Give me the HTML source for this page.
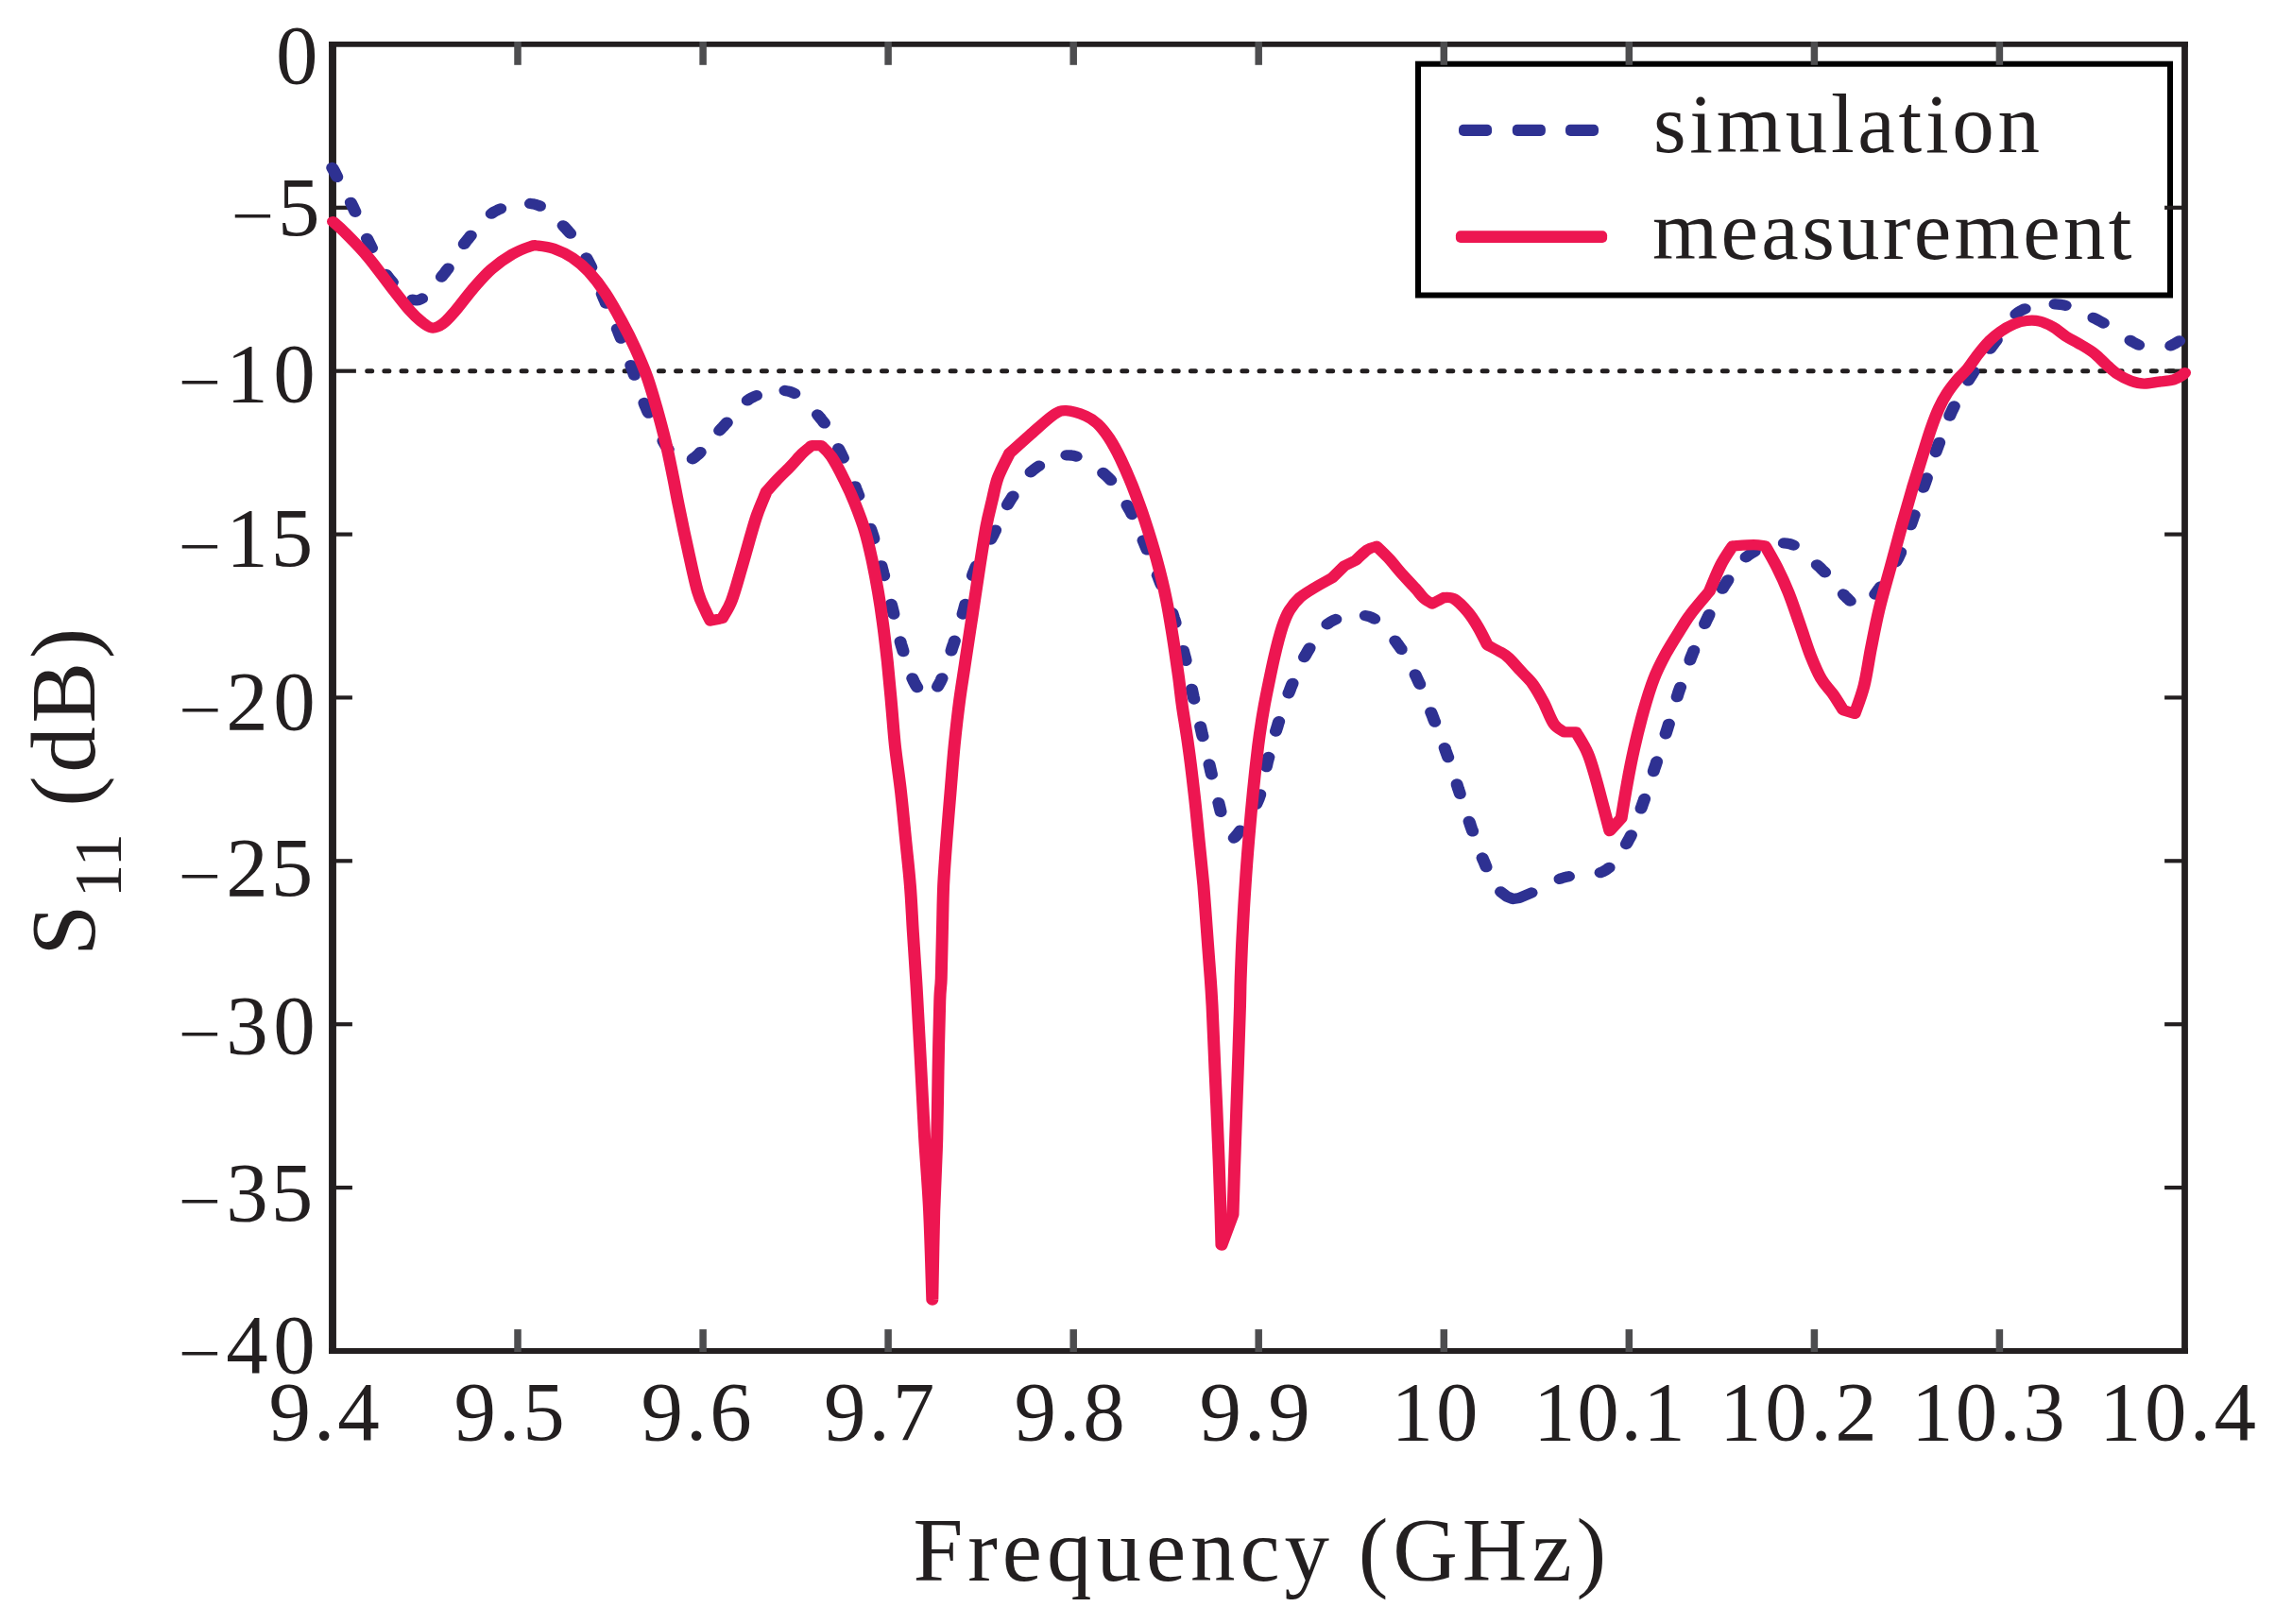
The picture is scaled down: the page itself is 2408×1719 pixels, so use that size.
<!DOCTYPE html>
<html lang="en"><head><meta charset="utf-8"><title>S11 simulation vs measurement</title>
<style>html,body{margin:0;padding:0;background:#fff}body{width:2408px;height:1719px;overflow:hidden}svg{display:block}text{font-family:"Liberation Serif","Times New Roman",Times,serif;fill:#231f20}</style></head><body>
<svg width="2408" height="1719" viewBox="0 0 2408 1719">
<rect width="2408" height="1719" fill="#fff"/>
<line x1="388.7" y1="392.7" x2="2309.1" y2="392.7" stroke="#231f20" stroke-width="5" stroke-dasharray="5 13.16" stroke-dashoffset="0" stroke-linecap="round"/>
<rect x="1501" y="67.7" width="796" height="244.8" fill="#fff" stroke="#000" stroke-width="6"/>
<rect x="1544" y="131.8" width="35.1" height="12.1" rx="5" ry="5" fill="#2e3192"/>
<rect x="1600.8" y="131.8" width="35.1" height="12.1" rx="5" ry="5" fill="#2e3192"/>
<rect x="1657" y="131.8" width="35" height="12.1" rx="5" ry="5" fill="#2e3192"/>
<rect x="1540.9" y="244.2" width="160.2" height="12.7" rx="5" ry="5" fill="#ed1651"/>
<g stroke="#231f20" stroke-linecap="butt">
<line x1="352" y1="44" x2="352" y2="1432.9" stroke-width="7.9"/>
<line x1="2312.5" y1="44" x2="2312.5" y2="1432.9" stroke-width="6.8"/>
<line x1="348.1" y1="46.9" x2="2315.9" y2="46.9" stroke-width="5.8"/>
<line x1="348.1" y1="1430" x2="2315.9" y2="1430" stroke-width="5.8"/>
</g>
<g stroke="#4d4d4f" stroke-width="7.5">
<line x1="548" y1="1431" x2="548" y2="1407.1"/>
<line x1="548" y1="44" x2="548" y2="68.8"/>
<line x1="744.1" y1="1431" x2="744.1" y2="1407.1"/>
<line x1="744.1" y1="44" x2="744.1" y2="68.8"/>
<line x1="940.1" y1="1431" x2="940.1" y2="1407.1"/>
<line x1="940.1" y1="44" x2="940.1" y2="68.8"/>
<line x1="1136.2" y1="1431" x2="1136.2" y2="1407.1"/>
<line x1="1136.2" y1="44" x2="1136.2" y2="68.8"/>
<line x1="1332.2" y1="1431" x2="1332.2" y2="1407.1"/>
<line x1="1332.2" y1="44" x2="1332.2" y2="68.8"/>
<line x1="1528.3" y1="1431" x2="1528.3" y2="1407.1"/>
<line x1="1528.3" y1="44" x2="1528.3" y2="68.8"/>
<line x1="1724.3" y1="1431" x2="1724.3" y2="1407.1"/>
<line x1="1724.3" y1="44" x2="1724.3" y2="68.8"/>
<line x1="1920.4" y1="1431" x2="1920.4" y2="1407.1"/>
<line x1="1920.4" y1="44" x2="1920.4" y2="68.8"/>
<line x1="2116.4" y1="1431" x2="2116.4" y2="1407.1"/>
<line x1="2116.4" y1="44" x2="2116.4" y2="68.8"/>
</g>
<g stroke="#231f20" stroke-width="4.2">
<line x1="352" y1="219.8" x2="372.9" y2="219.8"/>
<line x1="2312.5" y1="219.8" x2="2291.1" y2="219.8"/>
<line x1="352" y1="392.7" x2="376.9" y2="392.7"/>
<line x1="2312.5" y1="392.7" x2="2291.1" y2="392.7"/>
<line x1="352" y1="565.6" x2="372.9" y2="565.6"/>
<line x1="2312.5" y1="565.6" x2="2291.1" y2="565.6"/>
<line x1="352" y1="738.4" x2="372.9" y2="738.4"/>
<line x1="2312.5" y1="738.4" x2="2291.1" y2="738.4"/>
<line x1="352" y1="911.3" x2="372.9" y2="911.3"/>
<line x1="2312.5" y1="911.3" x2="2291.1" y2="911.3"/>
<line x1="352" y1="1084.2" x2="372.9" y2="1084.2"/>
<line x1="2312.5" y1="1084.2" x2="2291.1" y2="1084.2"/>
<line x1="352" y1="1257.1" x2="372.9" y2="1257.1"/>
<line x1="2312.5" y1="1257.1" x2="2291.1" y2="1257.1"/>
</g>
<g transform="scale(1.15 1)" fill="none" stroke="#2e3192" stroke-width="11.3" stroke-linecap="round" stroke-linejoin="round">
<polyline points="305.8,177.5 307,179.9 308.1,182.4 309.2,184.9 310.3,187.3"/>
<polyline points="322.8,214.3 323.9,216.8 325,219.3 326,221.8 327,224.3"/>
<polyline points="337.8,252.4 338.9,255 340,257.5 341.1,260 342.2,262.6"/>
<polyline points="355.3,290.5 356.7,292.6 358.2,294.7 359.7,296.8 361.2,298.9"/>
<polyline points="379.7,317.1 381.5,317.7 383.2,317.9 385,317.6 386.7,317 388.4,316"/>
<polyline points="406.4,293.1 408,290.7 409.6,288.5 411,286.3 412.5,284.1"/>
<polyline points="427.2,258.3 428.6,256 430.2,253.8 431.7,251.6 433.3,249.3"/>
<polyline points="452.3,226.2 454.2,224.6 456.3,223.3 458.4,222.1 460.7,220.9"/>
<polyline points="488.2,215.5 490.4,215.8 492.7,216.4 494.9,217.2 497,218.2"/>
<polyline points="518.3,238.8 520,240.9 521.7,243 523.3,245.1 524.9,247.2"/>
<polyline points="539.7,273 540.9,275.5 542,277.9 543.1,280.4 544.2,282.8"/>
<polyline points="554.1,311 555,313.6 555.9,316.1 556.9,318.6 557.7,321.1"/>
<polyline points="568.1,348 569,350.5 569.8,353 570.7,355.5 571.6,358.1"/>
<polyline points="580.6,386.6 581.4,389.2 582.3,391.8 583,394.4 583.9,397.1"/>
<polyline points="592.9,426.5 593.8,429.2 594.8,431.8 595.8,434.5 596.9,437.2"/>
<polyline points="610.3,466.8 611.4,469 612.4,471 613.5,472.9 614.4,474.7 615,475.6"/>
<polyline points="637.5,485.8 639.2,484.3 641.1,482.5 643.2,480.4 644.6,478.7"/>
<polyline points="662.3,455.8 663.9,453.6 665.7,451.5 667.3,449.4 669,447.2"/>
<polyline points="688,423.9 689.9,422.3 691.9,421 694,419.8 696.2,418.7"/>
<polyline points="722.5,413.4 724.8,413.9 727,414.5 729,415.4 731.2,416.5"/>
<polyline points="752.5,439 754.2,441.3 755.7,443.5 757.3,445.7 758.7,447.9"/>
<polyline points="771.7,474.7 772.8,477.2 773.9,479.8 775,482.4 776.1,485"/>
<polyline points="787,514.8 787.9,517.6 788.9,520.4 789.8,523.3 790.3,524.7"/>
<polyline points="801.2,559.3 802.1,562.2 802.9,565 803.7,567.8 804.3,570.5"/>
<polyline points="811.2,598.8 811.8,601.5 812.4,604.1 813,606.8 813.7,609.5"/>
<polyline points="820.3,639.4 820.9,642.1 821.5,644.8 822.1,647.5 822.6,650.1"/>
<polyline points="828.7,679 829.3,681.6 830,684.2 830.7,686.9 831.4,689.6"/>
<polyline points="839.8,717.9 841,721.1 842.2,723.7 843.4,726.1 844.2,727.6"/>
<polyline points="863,726.9 863.7,725.4 864.5,723.8 865.4,722 866.2,720 867,717.8"/>
<polyline points="875.6,688.8 876.3,686.1 877.1,683.4 877.9,680.8 878.6,678.2"/>
<polyline points="886.1,650 886.7,647.4 887.4,644.8 888,642.1 888.6,639.4"/>
<polyline points="895.1,609.3 895.9,606.6 896.8,604 897.7,601.4 898.7,598.8"/>
<polyline points="911.9,571 913,568.5 914.2,566 915.2,563.5 916.3,561.1"/>
<polyline points="927.2,534.5 928.4,532.1 929.7,529.8 931,527.4 932.3,525.1"/>
<polyline points="948.7,499.8 950.5,498 952.3,496.3 954.3,494.7 956.3,493.1"/>
<polyline points="981.6,481.9 983.8,481.8 986.1,482 988.3,482.4 990.6,483.1"/>
<polyline points="1015.3,500.5 1017.2,502.5 1019,504.4 1020.8,506.4 1022.4,508.4"/>
<polyline points="1037.3,534.7 1038.5,537.2 1039.7,539.6 1040.8,542 1041.9,544.5"/>
<polyline points="1052.2,572 1053.1,574.5 1054,577 1054.9,579.5 1055.8,581.9"/>
<polyline points="1065.4,608.9 1066.3,611.4 1067.1,614 1068,616.6 1069,619.2"/>
<polyline points="1078.9,648.6 1079.7,651.3 1080.4,654 1081.2,656.7 1081.9,659.3"/>
<polyline points="1089.1,688.6 1089.7,691.3 1090.3,694 1091,696.7 1091.5,699.4"/>
<polyline points="1096.9,729.3 1097.4,732 1097.9,734.7 1098.4,737.4 1099,740"/>
<polyline points="1104.9,769 1105.4,771.6 1105.9,774.3 1106.4,777 1107,779.6"/>
<polyline points="1113,809 1113.6,811.7 1114.1,814.4 1114.6,817.1 1115.2,819.8"/>
<polyline points="1121.6,849.6 1122.1,852.1 1122.6,854.5 1123.1,856.9 1123.6,859.4"/>
<polyline points="1135.8,887 1137,885.7 1138.3,883.9 1139.7,881.8 1141.5,879.1"/>
<polyline points="1156.2,851.4 1157.3,848.6 1158.3,846 1159.1,843.4 1159.9,840.8"/>
<polyline points="1165.5,811.7 1166,809.1 1166.5,806.5 1167.1,803.9 1167.7,801.4"/>
<polyline points="1174.3,774.1 1175,771.6 1175.7,769 1176.3,766.4 1177.1,763.7"/>
<polyline points="1186,733.8 1187,731.1 1187.8,728.5 1188.7,725.9 1189.7,723.3"/>
<polyline points="1200.4,695.6 1201.7,693.2 1202.9,690.8 1204.1,688.4 1205.4,685.9"/>
<polyline points="1221.6,660.8 1223.4,659.2 1225.3,657.8 1227.3,656.6 1229.5,655.5"/>
<polyline points="1256.7,651.6 1259,652.2 1261,652.9 1263,653.9 1265,655.1"/>
<polyline points="1284.1,678.2 1285.6,680.5 1287,682.8 1288.4,685 1289.8,687.3"/>
<polyline points="1302.6,714 1303.7,716.6 1304.7,719.1 1305.7,721.7 1306.8,724.3"/>
<polyline points="1317.1,753.8 1318,756.4 1318.9,759 1319.7,761.6 1320.6,764.1"/>
<polyline points="1329.7,791.6 1330.4,794.1 1331.2,796.6 1332,799.1 1332.8,801.7"/>
<polyline points="1340.9,830 1341.6,832.6 1342.3,835.2 1343.1,837.8 1343.8,840.4"/>
<polyline points="1352.2,869.4 1353,872 1353.7,874.6 1354.5,877.2 1355.4,879.9"/>
<polyline points="1364.4,908 1365.2,910.2 1366,912.3 1366.7,914.2 1367.3,916 1367.9,917.7"/>
<polyline points="1381.3,944 1387,949 1392.6,951.5 1398.3,950.5 1409.6,945"/>
<polyline points="1435.6,930.4 1437,929.8 1438.4,929.3 1439.8,928.8 1441.2,928.4 1442.5,928 1443.9,927.7"/>
<polyline points="1473.1,923.6 1475.3,922.6 1477.3,921.4 1479.2,920 1481,918.3"/>
<polyline points="1496.8,893.5 1498,891.1 1499.1,888.7 1500.3,886.3 1501.3,883.9"/>
<polyline points="1510.4,855.9 1511.2,853.3 1512,850.7 1512.8,848.1 1513.6,845.5"/>
<polyline points="1521.9,816.6 1522.6,813.9 1523.4,811.3 1524.2,808.7 1524.9,806"/>
<polyline points="1533.1,776.8 1533.9,774.1 1534.6,771.5 1535.3,768.9 1536,766.3"/>
<polyline points="1543.6,737.7 1544.3,735.1 1545,732.5 1545.8,729.9 1546.6,727.3"/>
<polyline points="1555.5,698.8 1556.3,696.2 1557.2,693.6 1558.1,691 1559,688.5"/>
<polyline points="1569.1,660.4 1570.1,657.9 1571.1,655.4 1572.2,652.9 1573.2,650.4"/>
<polyline points="1585.4,623.2 1586.6,620.8 1587.9,618.5 1589.2,616.2 1590.5,613.8"/>
<polyline points="1607,589.8 1608.9,588.1 1610.8,586.6 1612.8,585.2 1615,583.8"/>
<polyline points="1642,574.9 1644.3,575.1 1646.5,575.5 1648.7,576.2 1650.8,577.1"/>
<polyline points="1672.4,597.8 1674.3,599.8 1676.1,601.8 1677.8,603.8 1679.7,605.9"/>
<polyline points="1696.7,629 1698,630.7 1699.4,632.3 1700.6,633.7 1701.8,635 1702.9,636.2"/>
<polyline points="1725.8,629 1726.9,627.3 1728,625.6 1729.1,623.8 1730.3,621.9 1730.9,620.9"/>
<polyline points="1745.1,594.6 1746.3,592.1 1747.4,589.6 1748.4,587.1 1749.4,584.6"/>
<polyline points="1758.6,555.6 1759.5,552.9 1760.3,550.3 1761,547.7 1761.9,545"/>
<polyline points="1770.3,516.1 1771.1,513.6 1771.9,511 1772.7,508.4 1773.4,505.9"/>
<polyline points="1781.7,478.5 1782.5,476 1783.3,473.5 1784.1,471 1785,468.4"/>
<polyline points="1794.5,440.1 1795.5,437.5 1796.5,435 1797.6,432.5 1798.6,430"/>
<polyline points="1811.5,402.9 1812.7,400.6 1814,398.2 1815.3,395.9 1816.5,393.6"/>
<polyline points="1831.7,369.2 1833.1,367 1834.6,364.7 1836.1,362.3 1837.7,359.9"/>
<polyline points="1855.5,332.6 1857.4,330.8 1859.4,329.3 1861.5,328 1863.7,326.8"/>
<polyline points="1891.3,321.9 1893.8,322.1 1896.3,322.4 1898.7,322.8 1901,323.4"/>
<polyline points="1926.8,336.3 1929.1,337.7 1931.4,339.1 1933.7,340.5 1936,342"/>
<polyline points="1960.8,360.4 1962.6,361.7 1964.4,362.8 1966.1,363.8 1967.7,364.8 1968.4,365.2"/>
<polyline points="1998,365.9 1999.4,365.1 2000.9,364.2 2002.4,363.2 2004.1,362.1 2005.8,360.9"/>
</g>
<path transform="scale(1.15 1)" d="M306.5 234.6C308.3 236.4 311.7 239.4 317 245.6C322.4 251.8 331.4 262.1 338.5 271.8C345.7 281.5 353.5 294.4 359.9 303.8C366.3 313.2 372.4 322.3 377 328.4C381.7 334.5 384.3 337.2 387.7 340.3C391.1 343.4 394.2 346.5 397.4 347C400.6 347.5 403.7 345.9 407 343.2C410.4 340.5 413.1 337 417.7 330.9C422.4 324.8 429.2 313.9 434.9 306.3C440.6 298.7 445.9 291.5 452 285.3C458.1 279.1 465.2 273.4 471.3 269.3C477.4 265.2 484.5 262.2 488.4 260.7C492.3 259.1 491.2 259.6 494.8 260C498.3 260.4 504.5 261 509.8 263.2C515.2 265.4 521.6 268.9 527 273C532.3 277.1 537 281.6 542 287.8C547 294 552 301.4 557 310C561.9 318.6 567.3 329.7 571.9 339.5C576.6 349.3 580.9 359.1 584.8 369C588.7 378.9 592.3 388.3 595.5 398.6C598.7 408.9 601.2 419.1 604.1 430.6C606.9 442.1 610.1 455.7 612.6 467.6C615.1 479.5 617 490.6 619 502C621.1 513.4 622.3 522.3 624.8 536C627.2 549.7 630.8 569.4 633.7 584.4C636.6 599.4 639.5 615.8 642.2 626.3C644.8 636.8 647.7 642.1 649.7 647.2C651.6 652.3 653.2 655.4 653.9 657L664.7 654.6C666.1 651.5 670.4 644.6 673.2 636.2C676.1 627.8 679 615.2 681.8 604.1C684.7 593 687.9 579.6 690.3 569.7C692.8 559.9 694.3 553.2 696.8 545C699.3 536.8 704 524.5 705.4 520.4C707 518.4 711.3 512.6 715 508.1C718.8 503.6 723.9 498 727.8 493.3C731.8 488.6 735.4 483.4 738.6 479.8C741.8 476.2 745.7 473 747.1 471.6L755.7 471.6C757.3 473.6 761.7 477.3 765.3 483.4C768.9 489.5 773.6 499.9 777.1 508.1C780.7 516.3 783.6 523.5 786.8 532.7C790 541.9 793.8 553.2 796.4 563.5C799.1 573.8 800.9 583.8 802.9 594.3C804.8 604.8 806.6 615.6 808.2 626.3C809.8 637 811 646 812.4 658.3C813.9 670.6 815.4 685.8 816.8 700.2C818.1 714.6 819.3 729.6 820.4 744.5C821.6 759.4 822.4 773.6 823.8 789.3C825.3 805 827.6 822.1 829.2 838.5C830.8 854.9 832.1 871.4 833.5 887.8C834.9 904.2 836.6 920.6 837.7 937C838.9 953.4 839.4 969.9 840.3 986.3C841.2 1002.7 842.4 1021.6 843.1 1035.6C843.9 1049.5 844 1053.6 844.8 1070C845.6 1086.4 846.8 1111.5 847.8 1134C848.9 1156.5 849.8 1180.3 851 1205C852.3 1229.7 854.1 1253.5 855.3 1282C856.5 1310.5 857.6 1360.3 858.1 1376C858.4 1360.3 859.1 1310.5 859.8 1282C860.6 1253.5 861.8 1229.7 862.4 1205C863 1180.3 863.1 1158.2 863.5 1134C863.9 1109.8 864.5 1076.4 865 1060C865.4 1043.6 865.9 1047.9 866.3 1035.6C866.7 1023.3 866.9 1002.7 867.3 986.3C867.7 969.9 867.8 953.4 868.4 937C869.1 920.6 870.2 904.2 871.3 887.8C872.4 871.4 873.6 854.9 874.8 838.5C876 822.1 877 805.4 878.4 789.3C879.8 773.2 881.4 756.9 883.1 742C884.8 727.1 886.6 715.4 888.5 700.2C890.5 685 892.8 667.4 895 651C897.1 634.6 899.3 617.3 901.4 601.7C903.5 586.1 905.8 569.2 907.7 557.3C909.7 545.4 911.3 538.8 913.1 530.2C914.9 521.6 915.8 514 918.5 505.6C921.2 497.2 927.4 484.1 929.2 479.8C932.4 476.5 941.7 466.8 948.4 460C955.2 453.2 964.3 443.3 969.7 439.1C975.2 434.9 976.4 434.5 981.3 434.7C986.2 434.9 994.6 438 999.4 440.3C1004.2 442.6 1006.5 444.6 1010.1 448.5C1013.7 452.4 1017.2 457.5 1020.8 463.7C1024.3 469.9 1027.9 477.5 1031.5 485.9C1035 494.3 1038.5 503.5 1042.2 514.2C1045.8 524.9 1049.8 537.1 1053.5 550C1057.2 562.9 1061.2 577.8 1064.5 591.8C1067.8 605.8 1070.8 619.7 1073.3 633.7C1075.8 647.7 1077.6 661.7 1079.6 675.6C1081.5 689.5 1083.4 705.3 1084.9 717.4C1086.3 729.5 1086.7 736 1088.2 748C1089.7 760 1091.9 774.2 1093.7 789.3C1095.6 804.4 1097.4 822.1 1099 838.5C1100.7 854.9 1102 871.4 1103.4 887.8C1104.8 904.2 1106.4 920.6 1107.7 937C1108.9 953.4 1109.8 969.9 1110.9 986.3C1111.9 1002.7 1113.3 1022.5 1114.1 1035.6C1114.9 1048.7 1114.9 1048.6 1115.7 1065C1116.4 1081.4 1117.4 1110.2 1118.3 1134C1119.3 1157.8 1120.3 1184.2 1121.1 1208C1122 1231.8 1122.8 1258.7 1123.3 1277C1123.8 1295.3 1124.2 1311.2 1124.3 1318L1134.8 1285.4C1135.1 1272.5 1136.2 1233.2 1137 1208C1137.7 1182.8 1138.6 1157.8 1139.3 1134C1140 1110.2 1140.9 1081.4 1141.3 1065C1141.7 1048.6 1141.5 1048.7 1141.9 1035.6C1142.3 1022.5 1142.9 1002.7 1143.7 986.3C1144.4 969.9 1145.2 953.4 1146.2 937C1147.1 920.6 1148.2 904.2 1149.4 887.8C1150.6 871.4 1151.9 854.9 1153.3 838.5C1154.7 822.1 1156.6 802.4 1158 789.3C1159.4 776.2 1160.5 768.7 1161.7 760C1163 751.3 1163.4 747.9 1165.3 737.1C1167.2 726.3 1170.4 707.6 1172.9 695.3C1175.4 683 1178 671.5 1180.3 663.3C1182.7 655.1 1184.1 651.1 1186.8 646C1189.5 640.9 1192.7 636.4 1196.4 632.5C1200.2 628.6 1204.2 626.1 1209.2 622.6C1214.2 619.1 1223.5 613.4 1226.3 611.5L1237.1 599.2L1247.8 593.1C1249.6 591.2 1255.3 584.5 1258.5 582C1261.7 579.5 1265.6 578.9 1267 578.3C1268.8 580.3 1273.9 585.7 1277.8 590.6C1281.8 595.5 1286.3 602.3 1290.6 607.8C1294.9 613.3 1300.1 619.5 1303.5 623.8C1306.9 628.1 1308.5 631.2 1311 633.7C1313.4 636.2 1317 638.1 1318.3 639L1328.9 632.5C1330.5 632.8 1334.9 631.5 1338.5 634C1342.2 636.5 1347.1 642.6 1350.8 647.5C1354.4 652.4 1357.3 657.7 1360.3 663.6C1363.4 669.5 1367.5 679.5 1369 682.7C1370.9 683.9 1377.4 687.8 1380.7 690C1383.9 692.2 1385.2 692.6 1388.4 696.1C1391.7 699.6 1396.4 706.1 1400.2 710.8C1403.9 715.5 1407.6 719 1411 724.4C1414.3 729.8 1417.3 735.9 1420.5 742.9C1423.7 749.9 1427 761 1430.2 766.3C1433.4 771.6 1438.2 773.5 1439.8 774.9L1450.5 774.9C1452.3 778.6 1458.2 788.8 1461.2 797C1464.3 805.2 1466.3 814.2 1468.8 824.1C1471.3 834 1474.1 847 1476.3 856.2C1478.4 865.5 1480.7 875.7 1481.6 879.6L1492.3 866C1493.2 859.9 1495.7 841.4 1497.7 829.1C1499.6 816.8 1501.6 804.8 1504.1 792.1C1506.6 779.4 1509.7 765 1512.7 752.7C1515.7 740.4 1518.9 728.2 1522.3 718.2C1525.7 708.2 1528.8 701.4 1533 692.4C1537.3 683.4 1544.1 671.2 1548 664C1551.9 656.8 1552.3 655.6 1556.5 649.3C1560.7 643 1570.5 629.9 1573.3 626C1575.1 621.3 1580.4 605.6 1584 597.6C1587.6 589.6 1592.9 581.2 1594.7 577.9C1597.9 577.7 1609 576.7 1614 576.7C1619 576.7 1622.9 577.7 1624.7 577.9C1626.5 581.6 1631.8 591.9 1635.4 600.1C1639 608.3 1642.5 616.9 1646.1 627.2C1649.7 637.5 1653.4 650.6 1656.8 661.7C1660.2 672.8 1663.2 684.3 1666.4 693.7C1669.7 703.1 1672.7 711.5 1676.1 718.3C1679.5 725.1 1683.4 728.8 1686.8 734.3C1690.2 739.8 1694.8 748.7 1696.4 751.6L1707.1 755.3C1708.6 750.4 1713.2 737.2 1715.7 725.7C1718.2 714.2 1719.8 699.8 1722.1 686.3C1724.4 672.8 1726.7 658.8 1729.7 644.4C1732.7 630 1736.6 614.9 1740.1 600.1C1743.6 585.4 1747.1 569.8 1750.5 555.9C1753.9 542 1757.1 529 1760.3 516.5C1763.6 504 1767 491.5 1769.8 481C1772.7 470.5 1774.9 461.6 1777.4 453.4C1779.9 445.2 1782.3 437.9 1784.8 431.7C1787.2 425.5 1789.4 420.9 1792.2 416C1794.9 411.1 1798.1 406.5 1801.2 402.2C1804.3 397.9 1807.7 394.9 1811 390.3C1814.2 385.7 1817.5 379.5 1820.9 374.6C1824.2 369.7 1827.7 364.8 1831.1 360.8C1834.6 356.9 1837.7 353.8 1841.4 350.9C1845.1 347.9 1849.4 345 1853.4 343.1C1857.4 341.2 1861.4 340 1865.4 339.5C1869.4 339 1873.4 339 1877.4 340.1C1881.4 341.2 1885.4 343.4 1889.4 346C1893.4 348.6 1897.4 352.9 1901.4 355.9C1905.4 358.8 1909.1 360.8 1913.4 363.7C1917.7 366.6 1922.9 369.8 1927.1 373.6C1931.4 377.4 1935.3 382.6 1939 386.4C1942.8 390.2 1945.7 393.5 1949.4 396.3C1953.1 399.1 1957.4 401.6 1961.4 403.2C1965.4 404.8 1969.1 406 1973.4 406.1C1977.7 406.2 1982.5 404.8 1987 404.1C1991.6 403.4 1997.2 403 2000.8 401.8C2004.4 400.6 2006.8 398.4 2008.5 397.2C2010.2 396 2010.5 395 2010.9 394.6" fill="none" stroke="#ed1651" stroke-width="11.3" stroke-linecap="round" stroke-linejoin="round"/>
<g font-size="89" letter-spacing="5.5">
<text x="292" y="88">0</text>
<text transform="translate(244.6 253.1) scale(0.903 0.82)" letter-spacing="0">−</text>
<text x="294" y="249.3">5</text>
<text transform="translate(188.5 428.8) scale(0.903 0.82)" letter-spacing="0">−</text>
<text x="239.3" y="425">10</text>
<text transform="translate(188.5 602.6) scale(0.903 0.82)" letter-spacing="0">−</text>
<text x="239.3" y="598.8" letter-spacing="3">15</text>
<text transform="translate(189 775.8) scale(0.903 0.82)" letter-spacing="0">−</text>
<text x="239.3" y="772">20</text>
<text transform="translate(188.5 951.8) scale(0.903 0.82)" letter-spacing="0">−</text>
<text x="239.3" y="948" letter-spacing="3">25</text>
<text transform="translate(188.5 1118.5) scale(0.903 0.82)" letter-spacing="0">−</text>
<text x="239.3" y="1114.7">30</text>
<text transform="translate(188.5 1295.6) scale(0.903 0.82)" letter-spacing="0">−</text>
<text x="239.3" y="1291.8" letter-spacing="3">35</text>
<text transform="translate(188.5 1456.8) scale(0.903 0.82)" letter-spacing="0">−</text>
<text x="239.3" y="1453">40</text>
</g>
<g font-size="89" letter-spacing="3">
<text x="284.5" y="1523.7">9.4</text>
<text x="480.5" y="1523.7">9.5</text>
<text x="678.5" y="1523.7">9.6</text>
<text x="872" y="1523.7">9.7</text>
<text x="1073.5" y="1523.7">9.8</text>
<text x="1269.5" y="1523.7">9.9</text>
<text x="1472.5" y="1523.7">10</text>
<text x="1623" y="1523.7" letter-spacing="1.7">10.1</text>
<text x="1820" y="1523.7" letter-spacing="3.7">10.2</text>
<text x="2023" y="1523.7" letter-spacing="2.3">10.3</text>
<text x="2222" y="1523.7" letter-spacing="3.4">10.4</text>
</g>
<g font-size="89">
<text x="1750" y="161" letter-spacing="3.7">simulation</text>
<text x="1749" y="273.6" letter-spacing="3.3">measurement</text>
</g>
<text x="966.5" y="1673.4" font-size="95" letter-spacing="4.95" word-spacing="-3">Frequency (GHz)</text>
<text transform="translate(100 1011.7) rotate(-90)" font-size="97" letter-spacing="3.45">S<tspan font-size="71" dx="4" dy="28" letter-spacing="0">11</tspan><tspan dy="-28" letter-spacing="3.8"> (dB)</tspan></text>
</svg></body></html>
